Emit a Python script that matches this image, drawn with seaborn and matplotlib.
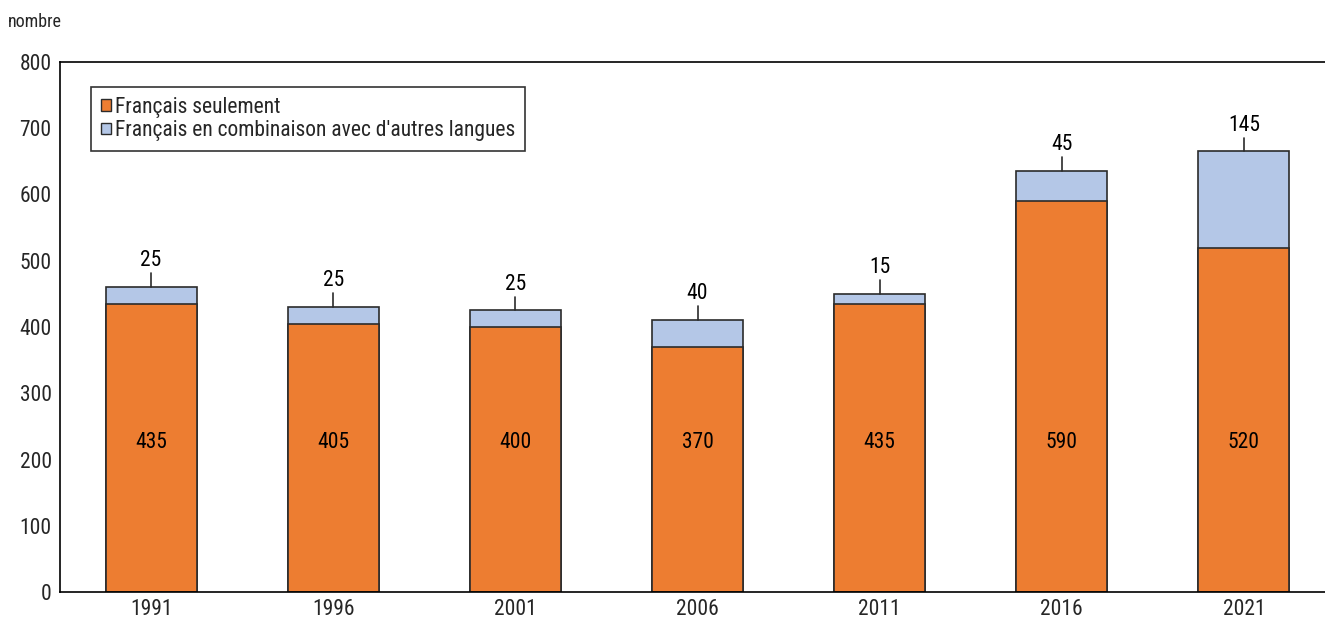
import matplotlib
matplotlib.use("Agg")
import matplotlib.pyplot as plt
from matplotlib.patches import Patch
import seaborn as sns
import pandas as pd

years = ["1991", "1996", "2001", "2006", "2011", "2016", "2021"]
francais_seulement = [435, 405, 400, 370, 435, 590, 520]
francais_combinaison = [25, 25, 25, 40, 15, 45, 145]
series_labels = ["Français seulement", "Français en combinaison avec d'autres langues"]
y_ticks = [0, 100, 200, 300, 400, 500, 600, 700, 800]

sns.set_theme(style="white")
plt.rcParams['font.family'] = ['Roboto Condensed', 'Liberation Sans', 'DejaVu Sans']

orange = "#ED7D31"
blue = "#B4C7E7"
edge = "#2b2b2b"
fs = 15.5

df = pd.DataFrame({"year": years, "seul": francais_seulement, "comb": francais_combinaison})
df["total"] = df["seul"] + df["comb"]

fig = plt.figure(figsize=(13.25, 6.21), dpi=100)
ax = fig.add_axes([60/1325, 29/621, 1275/1325, 530/621])

sns.barplot(data=df, x="year", y="total", color=blue, edgecolor=edge, linewidth=1.2,
            width=0.5, saturation=1, ax=ax)
sns.barplot(data=df, x="year", y="seul", color=orange, edgecolor=edge, linewidth=1.2,
            width=0.5, saturation=1, ax=ax)

for i, (s, c, t) in enumerate(zip(df["seul"], df["comb"], df["total"])):
    ax.text(i, 225, f"{s}", ha="center", va="center", fontsize=fs, color="black")
    ax.plot([i, i], [t, t + 21], color=edge, lw=1.2)
    ax.text(i, t + 24, f"{c}", ha="center", va="bottom", fontsize=fs, color="black")

ax.set_xlim(-0.5, 6.5)
ax.set_ylim(0, 800)
ax.set_yticks(y_ticks)
ax.set_xlabel("")
ax.set_ylabel("")
ax.tick_params(axis="y", direction="in", length=5, width=1, color="black", labelsize=fs, pad=6)
ax.tick_params(axis="x", length=0, labelsize=fs, pad=5)
for side in ["left", "bottom", "top"]:
    ax.spines[side].set_visible(True)
    ax.spines[side].set_color("black")
    ax.spines[side].set_linewidth(1.2)
ax.spines["right"].set_visible(False)

handles = [Patch(facecolor=orange, edgecolor=edge, linewidth=1),
           Patch(facecolor=blue, edgecolor=edge, linewidth=1)]
leg = ax.legend(handles, series_labels, loc="upper left", bbox_to_anchor=(31/1275, 1 - 25/530),
                frameon=True, fancybox=False, fontsize=fs, handlelength=0.5, handleheight=0.45,
                handletextpad=0.15, borderpad=0.45, labelspacing=0.12, borderaxespad=0)
leg.get_frame().set_edgecolor("black")
leg.get_frame().set_linewidth(1.2)

fig.text(8/1325, 1 - 22/621, "nombre", ha="left", va="center", fontsize=13)

fig.savefig("out.png", dpi=100)
